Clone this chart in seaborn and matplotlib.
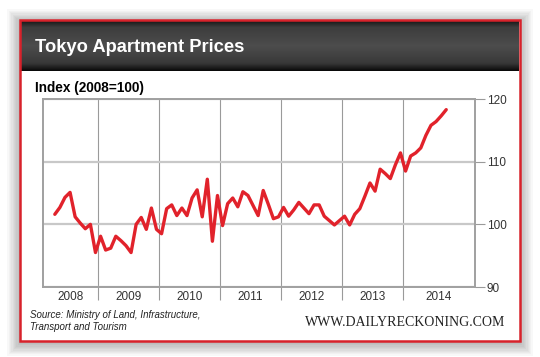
import numpy as np
import pandas as pd
import matplotlib
matplotlib.use("Agg")
import matplotlib.pyplot as plt
from matplotlib.patches import Rectangle
import seaborn as sns

# Tokyo apartment price index (2008=100), monthly from April 2008
start = "2008-04"
prices = [101.6, 102.7, 104.3, 105.1, 101.2, 100.2, 99.3, 100.0, 95.5, 98.1,
          95.9, 96.2, 98.1, 97.4, 96.6, 95.5, 100.0, 101.1, 99.2, 102.6,
          99.2, 98.5, 102.5, 103.1, 101.4, 102.6, 101.4, 104.2, 105.5, 101.2,
          107.2, 97.3, 104.6, 99.8, 103.3, 104.2, 102.8, 105.2, 104.6, 103.0,
          101.4, 105.4, 103.2, 100.9, 101.2, 102.7, 101.3, 102.3, 103.5, 102.6,
          101.7, 103.1, 103.1, 101.3, 100.6, 99.9, 100.6, 101.3, 99.9, 101.6,
          102.5, 104.5, 106.6, 105.3, 108.8, 108.1, 107.3, 109.5, 111.4, 108.5,
          110.9, 111.4, 112.2, 114.2, 115.8, 116.4, 117.3, 118.3]
years = [2008, 2009, 2010, 2011, 2012, 2013, 2014]
y_ticks = [90, 100, 110, 120]

title = "Tokyo Apartment Prices"
subtitle = "Index (2008=100)"
source = "Source: Ministry of Land, Infrastructure,\nTransport and Tourism"
site = "WWW.DAILYRECKONING.COM"

RED = "#e1222b"
BORDER = "#d8222b"
GRID_V = "#9a9a9a"
GRID_H = "#c8c8c8"

dates = pd.date_range(start, periods=len(prices), freq="MS")
df = pd.DataFrame({
    "year": dates.year + (dates.month - 0.5) / 12,
    "index": prices,
})

sns.set_theme(style="white")
plt.rcParams["font.family"] = ["Liberation Sans", "DejaVu Sans"]

W, H = 540, 357
fig = plt.figure(figsize=(W / 100, H / 100), dpi=100)
fig.patch.set_facecolor("white")

# background layer in pixel coordinates
bg = fig.add_axes([0, 0, 1, 1])
bg.axis("off")

# soft drop shadow around the card
for i in range(10):
    pad = 1 + i * 1.3
    bg.add_patch(Rectangle((20 - pad, 22 - pad), 500 + 2 * pad, 321 + 2 * pad,
                           facecolor="black", alpha=0.026, lw=0, zorder=0))
bg.add_patch(Rectangle((20, 20), 500, 321, facecolor="white", lw=0, zorder=1))

# dark gradient title bar
stops = np.linspace(0, 1, 60)
shade = np.interp(stops, [0, 0.12, 0.5, 0.85, 1.0], [0.10, 0.24, 0.30, 0.22, 0.04])
grad = np.repeat(shade[:, None, None], 3, axis=2)
bg.imshow(grad, extent=(21, 519, 71, 21), aspect="auto", zorder=2)
bg.add_patch(Rectangle((20, 20), 500, 321, facecolor="none", edgecolor=BORDER,
                       lw=1.8, zorder=3))
bg.set_xlim(0, W)
bg.set_ylim(H, 0)

bg.text(35, 47, title, color="white", fontsize=13.2, fontweight="bold",
        va="center", ha="left", zorder=4)
bg.text(35, 88, subtitle, color="black", fontsize=9.8, fontweight="bold",
        va="center", ha="left", zorder=4)
bg.text(30, 321, source, color="#222222", fontsize=7, style="italic",
        va="center", ha="left", linespacing=1.25, zorder=4)
bg.text(505, 322, site, color="#222222", fontsize=10, family=["Liberation Serif"],
        va="center", ha="right", zorder=4)

# main chart
ax = fig.add_axes([43 / W, 1 - 287 / H, 432 / W, 188 / H])
sns.lineplot(data=df, x="year", y="index", ax=ax, color=RED, lw=2.4, zorder=3)

x0, x1 = 2008.098, 2015.18
ax.set_xlim(x0, x1)
ax.set_ylim(y_ticks[0], y_ticks[-1])
ax.set_xlabel("")
ax.set_ylabel("")

edges = [x0] + years[1:] + [x1]
centers = [(a + b) / 2 for a, b in zip(edges[:-1], edges[1:])]
ax.set_xticks(years[1:])
ax.set_xticklabels([])
ax.set_xticks(centers, minor=True)
ax.set_xticklabels([str(y) for y in years], minor=True)
ax.tick_params(axis="x", which="major", length=9.5, width=0.8, color=GRID_V,
               direction="out", bottom=True)
ax.tick_params(axis="x", which="minor", length=0, pad=3, labelsize=8.5,
               labelcolor="#333333")

ax.set_yticks(y_ticks)
ax.yaxis.tick_right()
ax.tick_params(axis="y", length=7, width=0.8, color=GRID_V, pad=1.5,
               labelsize=8.5, labelcolor="#333333", right=True, left=False)

ax.grid(axis="x", which="major", color=GRID_V, lw=0.8)
ax.grid(axis="y", color=GRID_H, lw=1.6)
ax.set_axisbelow(True)
for sp in ax.spines.values():
    sp.set_visible(True)
    sp.set_color("#a0a0a0")
    sp.set_linewidth(1.4)

fig.savefig("out.png", dpi=100, facecolor="white")
